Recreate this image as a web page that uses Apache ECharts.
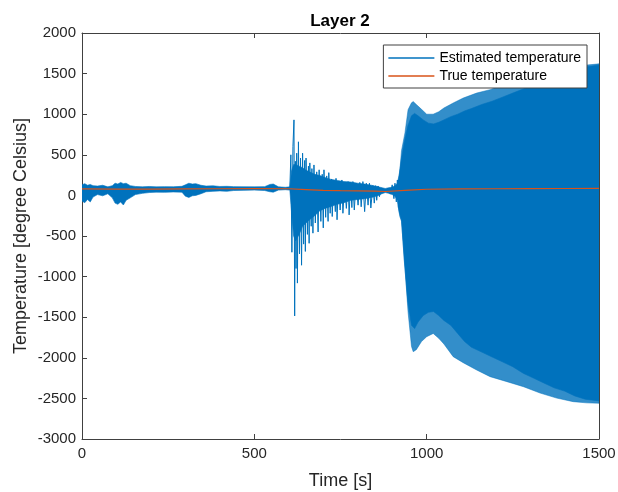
<!DOCTYPE html>
<html>
<head>
<meta charset="utf-8">
<script src="https://cdn.jsdelivr.net/npm/echarts@6/dist/echarts.min.js"></script>
<style>
html,body{margin:0;padding:0;background:#fff;}
#chart{width:618px;height:492px;}
</style>
</head>
<body>
<div id="chart"></div>
<script>
// ---- data ----
const xTicks = [0, 500, 1000, 1500];
const yTicks = [-3000, -2500, -2000, -1500, -1000, -500, 0, 500, 1000, 1500, 2000];

// True temperature
const trueTime = [0, 100, 200, 300, 400, 500, 600, 650, 700, 750, 800, 850, 880, 950, 1000, 1100, 1200, 1300, 1400, 1500];
const trueTemp = [80, 78, 78, 80, 82, 85, 82, 72, 62, 58, 56, 52, 48, 66, 76, 80, 82, 84, 85, 86];

// Estimated temperature: solid core envelope
const coreTime = [0,8,16,24,32,45,60,75,88,96,104,112,120,128,140,155,175,195,215,240,265,290,300,310,320,330,345,360,380,400,420,440,470,500,530,545,555,570,590,603,
  608,614,620,630,640,650,660,675,690,705,720,740,760,780,800,820,840,860,870,880,890,900,908,915,920,
  927,935,945,956,965,975,990,1005,1020,1035,1050,1070,1090,1110,1130,1160,1190,1220,1250,1280,1310,1340,1370,1400,1430,1460,1490,1500];
const coreUpper = [130,145,125,135,120,115,125,105,120,150,140,160,145,150,120,110,105,110,105,108,106,112,130,150,140,145,125,115,118,110,112,108,106,105,108,135,140,105,100,105,
  300,380,380,360,340,310,290,260,245,220,200,185,170,165,150,140,125,105,95,85,95,100,120,150,250,
  450,650,850,980,1010,980,930,890,880,900,930,970,1000,1040,1070,1120,1160,1210,1260,1310,1360,1420,1470,1510,1550,1580,1600,1605];
const coreLower = [-70,-90,-50,-80,-20,10,-5,20,-30,-95,-110,-80,-118,-60,-30,10,25,35,40,38,42,40,-10,-25,-5,0,20,45,50,55,50,60,62,65,60,45,40,65,70,65,
  -200,-500,-560,-480,-380,-340,-300,-250,-190,-160,-140,-110,-90,-60,-50,-40,-25,0,20,35,25,10,-10,-60,-200,
  -300,-800,-1300,-1600,-1640,-1560,-1480,-1440,-1430,-1480,-1540,-1600,-1700,-1800,-1870,-1930,-1990,-2050,-2110,-2190,-2250,-2310,-2370,-2410,-2470,-2510,-2525,-2530];

// Estimated temperature: outer (lighter) envelope of the dense oscillation
const lightTime  = [918,922,927,937,946,956,961,970,985,1000,1019,1035,1050,1077,1106,1145,1184,1233,1281,1329,1377,1425,1464,1500];
const lightUpper = [150,300,550,770,1055,1140,1155,1120,1060,1000,1000,1030,1076,1138,1199,1260,1302,1384,1425,1487,1528,1569,1605,1620];
const lightLower = [-150,-260,-320,-880,-1435,-1860,-1925,-1900,-1800,-1740,-1700,-1760,-1830,-1986,-2060,-2150,-2232,-2294,-2356,-2434,-2496,-2540,-2555,-2560];

// Estimated temperature: individual spikes after the disturbance
const spikeTime = [603,606,609,612,615,617,619,621,623,625,628,631,634,637,640,643,646,648,650,654,657,659,661,665,667,670,673,677,681,685,688,693,697,700,702,707,710,714,716,720,724,726,730,735,737,740,744,749,754,757,762,767,772,775,779,783,786,790,795,801,806,810,815,820,825,830,834,838,844,848,852,855,859,863,868,895,900,905,908,912,915,918];
const spikeVal  = [80,500,-700,600,930,-1485,420,-900,520,-1080,660,-720,460,-860,520,-600,430,-690,460,-480,360,-590,400,-380,330,-465,375,-340,290,-450,315,-320,260,-400,315,-270,240,-320,280,-220,200,-260,180,-200,210,-300,170,-180,190,-220,150,-160,170,-240,140,-150,170,-180,150,-120,160,-140,170,-200,150,-120,150,-155,120,-95,120,-60,116,-16,90,20,130,-40,150,-80,190,-150,250];

// ---- chart ----
const BLUE = '#0072BD', ORANGE = '#D95319', AXIS = '#404040', TEXT = '#262626';
const FONT = '"Liberation Sans", Arial, Helvetica, sans-serif';

function band(name, times, upper, lower, color, z) {
  return {
    type: 'custom', name: name, coordinateSystem: 'cartesian2d',
    xAxisIndex: 0, yAxisIndex: 0, silent: true, clip: true, z: z,
    data: [[times[0], upper[0]]],
    renderItem: function (params, api) {
      const pts = [];
      for (let i = 0; i < times.length; i++) pts.push(api.coord([times[i], upper[i]]));
      for (let i = times.length - 1; i >= 0; i--) pts.push(api.coord([times[i], lower[i]]));
      return { type: 'polygon', shape: { points: pts }, style: { fill: color, stroke: color, lineWidth: 0.6 } };
    }
  };
}

const chart = echarts.init(document.getElementById('chart'), null, { renderer: 'canvas' });
function axisCommon() {
  return {
    axisLine: { show: true, onZero: false, lineStyle: { color: AXIS, width: 1 } },
    axisTick: { show: true, inside: true, length: 5, lineStyle: { color: AXIS } },
    splitLine: { show: false }
  };
}
chart.setOption({
  animation: false,
  backgroundColor: '#fff',
  textStyle: { fontFamily: FONT },
  title: {
    text: 'Layer 2', left: 340, top: 13, textAlign: 'center', padding: 0,
    textStyle: { fontFamily: FONT, fontSize: 17, fontWeight: 'bold', color: '#000' }
  },
  grid: { left: 82, right: 19, top: 33, bottom: 53, containLabel: false, outerBoundsMode: 'none' },
  legend: {
    data: ['Estimated temperature', 'True temperature'],
    orient: 'vertical', right: 31, top: 45,
    icon: 'rect', itemWidth: 46, itemHeight: 1.4, itemGap: 4,
    padding: [6, 6, 5, 5],
    backgroundColor: '#fff', borderColor: AXIS, borderWidth: 1, borderRadius: 0,
    textStyle: { fontFamily: FONT, fontSize: 14, color: '#000', padding: [0, 0, 0, 0] },
    selectedMode: false
  },
  xAxis: [
    Object.assign(axisCommon(), {
      type: 'value', min: 0, max: 1500, interval: 500, position: 'bottom',
      name: 'Time [s]', nameLocation: 'middle', nameGap: 33, nameMoveOverlap: false,
      nameTextStyle: { fontFamily: FONT, fontSize: 18, color: TEXT },
      axisLabel: { show: true, margin: 7, fontFamily: FONT, fontSize: 15, color: TEXT, formatter: v => String(v) }
    }),
    Object.assign(axisCommon(), {
      type: 'value', min: 0, max: 1500, interval: 500, position: 'top',
      axisLabel: { show: false }
    })
  ],
  yAxis: [
    Object.assign(axisCommon(), {
      type: 'value', min: -3000, max: 2000, interval: 500, position: 'left',
      name: 'Temperature [degree Celsius]', nameLocation: 'middle', nameGap: 52, nameRotate: 90,
      nameMoveOverlap: false,
      nameTextStyle: { fontFamily: FONT, fontSize: 18, color: TEXT },
      axisLabel: { show: true, margin: 6, fontFamily: FONT, fontSize: 15, color: TEXT, formatter: v => String(v) }
    }),
    Object.assign(axisCommon(), {
      type: 'value', min: -3000, max: 2000, interval: 500, position: 'right',
      axisLabel: { show: false }
    })
  ],
  series: [
    band('estLight', lightTime, lightUpper, lightLower, 'rgba(0,114,189,0.8)', 2),
    band('estCore', coreTime, coreUpper, coreLower, BLUE, 3),
    {
      name: 'Estimated temperature', type: 'line', z: 4,
      data: spikeTime.map((t, i) => [t, spikeVal[i]]),
      showSymbol: false, symbol: 'none', silent: true,
      lineStyle: { color: BLUE, width: 1 }, itemStyle: { color: BLUE }
    },
    {
      name: 'True temperature', type: 'line', z: 5,
      data: trueTime.map((t, i) => [t, trueTemp[i]]),
      showSymbol: false, symbol: 'none', silent: true,
      lineStyle: { color: ORANGE, width: 1.2 }, itemStyle: { color: ORANGE }
    }
  ]
});
</script>
</body>
</html>
